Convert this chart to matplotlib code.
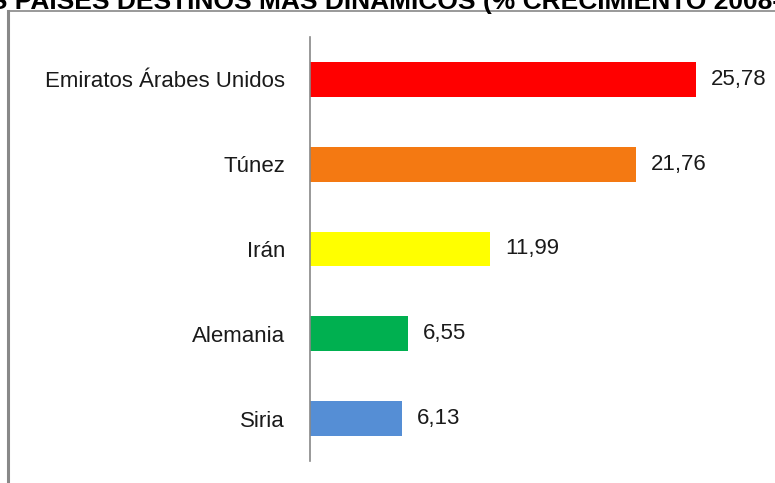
import matplotlib.pyplot as plt
from matplotlib.lines import Line2D

# data
paises = ["Emiratos Árabes Unidos", "Túnez", "Irán", "Alemania", "Siria"]
crecimiento = [25.78, 21.76, 11.99, 6.55, 6.13]
colores = ["#FF0000", "#F47912", "#FFFF00", "#00B050", "#558ED5"]
titulo = "LOS PAÍSES DESTINOS MÁS DINÁMICOS (% CRECIMIENTO 2008-2012)"

plt.rcParams['font.family'] = ['Liberation Sans', 'DejaVu Sans']

fig = plt.figure(figsize=(7.75, 4.83), dpi=100)
ax = fig.add_axes([0.4, 0.0455, 0.6, 0.878])

pos = list(range(len(paises)))
ax.barh(pos, crecimiento, height=0.41, color=colores)
ax.set_ylim(len(paises) - 0.5, -0.5)
ax.set_xlim(0, 31.06)
ax.set_yticks(pos)
ax.set_yticklabels(paises, fontsize=16, color='#1a1a1a')
ax.tick_params(axis='y', length=0, pad=18)
ax.set_xticks([])
for s in ['top', 'right', 'bottom']:
    ax.spines[s].set_visible(False)
ax.spines['left'].set_color('#888888')
ax.spines['left'].set_linewidth(1.2)

for p, v in zip(pos, crecimiento):
    ax.annotate(f"{v:.2f}".replace(".", ","), (v, p), xytext=(11, 0),
                textcoords='offset points', va='center', ha='left',
                fontsize=16, color='#1a1a1a')

# frame of the original slide
fig.add_artist(Line2D([7.5 / 775, 7.5 / 775], [0, 1 - 11 / 483], color='#888888', lw=2.2))
fig.add_artist(Line2D([7.5 / 775, 1], [1 - 11 / 483, 1 - 11 / 483], color='#888888', lw=1.2))

# title cut off at the top
fig.text(-0.061, 1 - 9 / 483, titulo, fontsize=19, fontweight='bold', va='baseline', ha='left')

fig.savefig("out.png", dpi=100)
